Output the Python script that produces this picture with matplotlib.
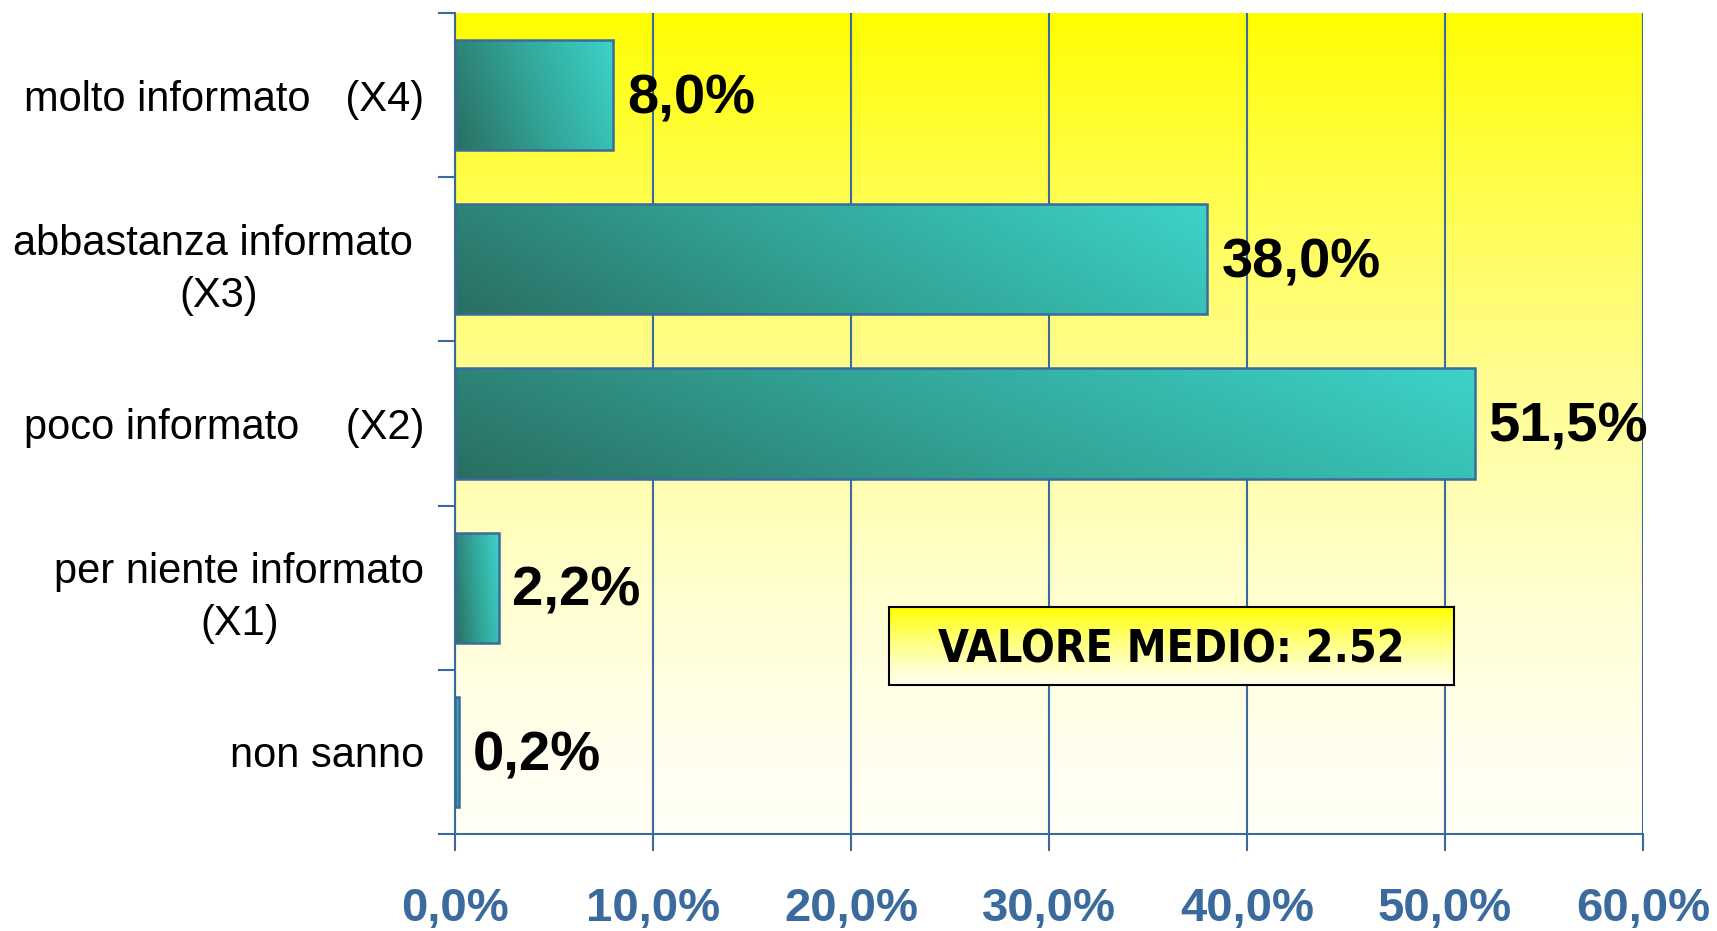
import numpy as np
import matplotlib
matplotlib.use("Agg")
import matplotlib.pyplot as plt
from matplotlib import font_manager
from matplotlib.patches import Rectangle
from matplotlib.colors import LinearSegmentedColormap

# --- data ---
categories = [
    "molto informato   (X4)",
    "abbastanza informato \n(X3)",
    "poco informato    (X2)",
    "per niente informato\n(X1)",
    "non sanno",
]
values = [8.0, 38.0, 51.5, 2.2, 0.2]
xticks = [0, 10, 20, 30, 40, 50, 60]
mean_text = "VALORE MEDIO: 2.52"

BLUE = "#3A6A9E"
FONT = "Liberation Sans"

# narrow bold font for the mean box, if one is there
installed = {f.name for f in font_manager.fontManager.ttflist}
box_font, box_stretch = "DejaVu Sans", "normal"
for name, st in [("Liberation Sans Narrow", "condensed"), ("DejaVu Sans Condensed", "condensed")]:
    if name in installed:
        box_font, box_stretch = name, st
        break
else:
    cond = [f for f in font_manager.fontManager.ttflist
            if f.name == "DejaVu Sans" and f.stretch == "condensed"]
    if cond:
        box_stretch = "condensed"

fig = plt.figure(figsize=(17.17, 9.31), dpi=100)
fig.patch.set_facecolor("white")
ax = fig.add_axes([455 / 1717, 1 - 834 / 931, (1643 - 455) / 1717, (834 - 13) / 931])

n = len(categories)
ypos = np.arange(n)[::-1]
ax.set_xlim(0, 60)
ax.set_ylim(-0.5, n - 0.5)

# background: yellow at top fading to almost white
t = np.linspace(0, 1, 256)  # 0 bottom, 1 top
bg = np.ones((256, 1, 3))
bg[:, 0, 2] = (245 * (1 - t ** 1.5)) / 255
bg[:, 0, 1] = (255 - 2 * t) / 255
ax.imshow(bg, extent=(0, 60, -0.5, n - 0.5), origin="lower", aspect="auto", zorder=0)

# vertical grid
for xv in xticks:
    ax.axvline(xv, color=BLUE, lw=1.5, zorder=1)

# bars with teal gradient (dark lower left -> light upper right)
teal = LinearSegmentedColormap.from_list("teal", ["#2A6E62", "#32A597", "#3DD3C9"])
gx, gy = np.meshgrid(np.linspace(0, 1, 200), np.linspace(0, 1, 60))
grad = 0.8 * gx + 0.2 * gy
h = 0.67
for y, v in zip(ypos, values):
    rect = Rectangle((0, y - h / 2), v, h, facecolor="none", edgecolor=BLUE, lw=1.8, zorder=3)
    ax.add_patch(rect)
    im = ax.imshow(grad, cmap=teal, extent=(0, v, y - h / 2, y + h / 2), origin="lower",
                   aspect="auto", zorder=2, interpolation="bilinear")
    im.set_clip_path(rect)
    ax.text(v + 0.7, y - 0.025, f"{v:.1f}%".replace(".", ","), ha="left", va="center",
            fontsize=40.5, fontweight="bold", family=FONT, color="black", zorder=4)

# axes styling
for s in ["top", "right"]:
    ax.spines[s].set_visible(False)
for s in ["left", "bottom"]:
    ax.spines[s].set_color(BLUE)
    ax.spines[s].set_linewidth(1.5)

ax.set_xticks(xticks)
ax.set_xticklabels([f"{x:.1f}%".replace(".", ",") for x in xticks],
                   fontsize=34, fontweight="bold", family=FONT, color=BLUE)
ax.tick_params(axis="x", direction="out", length=12, width=1.5, color=BLUE, pad=26.5)

ax.set_yticks(ypos)
ax.set_yticklabels(categories, fontsize=30, family=FONT, linespacing=1.38,
                   multialignment="center")
ax.tick_params(axis="y", which="major", length=0, pad=22)
ax.set_yticks(np.arange(-0.5, n, 1.0), minor=True)
ax.tick_params(axis="y", which="minor", direction="out", length=12, width=1.5, color=BLUE)

# mean value box
bax = fig.add_axes([889 / 1717, 1 - 685 / 931, (1454 - 889) / 1717, (685 - 607) / 931])
bt = np.linspace(0, 1, 100)
bbg = np.ones((100, 1, 3))
bbg[:, 0, 2] = (235 * (1 - bt ** 1.3)) / 255
bax.imshow(bbg, extent=(0, 1, 0, 1), origin="lower", aspect="auto")
bax.set_xticks([])
bax.set_yticks([])
for s in bax.spines.values():
    s.set_color("black")
    s.set_linewidth(1.5)
bax.text(0.5, 0.45, mean_text, ha="center", va="center", fontsize=32, fontweight="bold",
         family=box_font, stretch=box_stretch, color="black")

fig.savefig("out.png", dpi=100)
